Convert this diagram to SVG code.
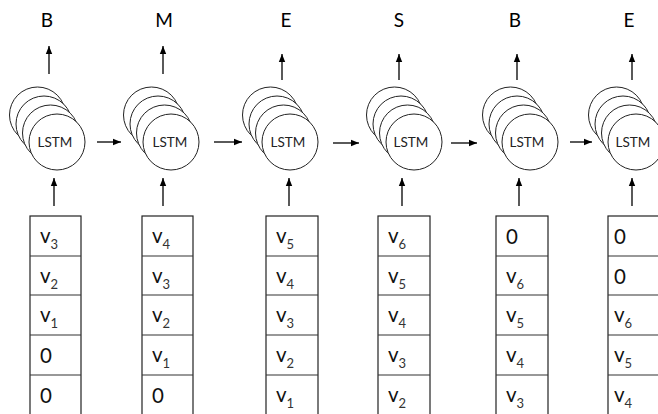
<svg xmlns="http://www.w3.org/2000/svg" width="658" height="414" viewBox="0 0 658 414">
<style>
.lbl{font-family:Lato,"Liberation Sans",sans-serif;font-size:19px;fill:#000;text-anchor:middle}
.lt{font-family:Lato,"Liberation Sans",sans-serif;font-size:13.5px;fill:#222;text-anchor:middle}
.c{fill:#fff;stroke:#222;stroke-width:1}
.bx{fill:#fff;stroke:#222;stroke-width:1.2}
.rl{stroke:#333;stroke-width:1.2}
.v{font-family:Lato,"Liberation Sans",sans-serif;font-size:20.5px;fill:#111}
.s{font-size:13px;fill:#333}
.ar{stroke:#000;stroke-width:1.3;fill:none;marker-end:url(#ah)}
</style>
<defs>
<marker id="ah" markerUnits="userSpaceOnUse" markerWidth="8" markerHeight="8" viewBox="0 0 8 8" refX="8" refY="4" orient="auto">
<path d="M0,0.8 L8,4 L0,7.2 Z" fill="#000"/>
</marker>
<g id="stack">
<circle class="c" cx="-19.5" cy="-27" r="28"/>
<circle class="c" cx="-13" cy="-18" r="28"/>
<circle class="c" cx="-6.5" cy="-9" r="28"/>
<circle class="c" cx="0" cy="0" r="28"/>
</g>
</defs>

<g id="labels">
<text class="lbl" x="47" y="27">B</text>
<text class="lbl" x="164" y="27">M</text>
<text class="lbl" x="286" y="27">E</text>
<text class="lbl" x="399" y="27">S</text>
<text class="lbl" x="515" y="27">B</text>
<text class="lbl" x="629" y="27">E</text>
</g>

<g id="lstm1"><use href="#stack" x="57" y="142"/><text class="lt" x="55" y="147">LSTM</text></g>
<g id="lstm2"><use href="#stack" x="171" y="142"/><text class="lt" x="170" y="147">LSTM</text></g>
<g id="lstm3"><use href="#stack" x="290" y="142"/><text class="lt" x="288" y="147">LSTM</text></g>
<g id="lstm4"><use href="#stack" x="414" y="142"/><text class="lt" x="411" y="147">LSTM</text></g>
<g id="lstm5"><use href="#stack" x="530" y="142"/><text class="lt" x="527" y="147">LSTM</text></g>
<g id="lstm6"><use href="#stack" x="636" y="142"/><text class="lt" x="633" y="147">LSTM</text></g>

<g id="input1">
<rect class="bx" x="30" y="216" width="51" height="210"/>
<line class="rl" x1="30" y1="256" x2="81" y2="256"/><line class="rl" x1="30" y1="295" x2="81" y2="295"/><line class="rl" x1="30" y1="335" x2="81" y2="335"/><line class="rl" x1="30" y1="375" x2="81" y2="375"/>
<text class="v" x="40" y="243">v<tspan class="s" dy="6">3</tspan></text>
<text class="v" x="40" y="283">v<tspan class="s" dy="6">2</tspan></text>
<text class="v" x="40" y="322">v<tspan class="s" dy="6">1</tspan></text>
<text class="v" x="40" y="363">0</text>
<text class="v" x="40" y="403">0</text>
</g>
<g id="input2">
<rect class="bx" x="142" y="216" width="51" height="210"/>
<line class="rl" x1="142" y1="256" x2="193" y2="256"/><line class="rl" x1="142" y1="295" x2="193" y2="295"/><line class="rl" x1="142" y1="335" x2="193" y2="335"/><line class="rl" x1="142" y1="375" x2="193" y2="375"/>
<text class="v" x="152" y="243">v<tspan class="s" dy="6">4</tspan></text>
<text class="v" x="152" y="283">v<tspan class="s" dy="6">3</tspan></text>
<text class="v" x="152" y="322">v<tspan class="s" dy="6">2</tspan></text>
<text class="v" x="152" y="362">v<tspan class="s" dy="6">1</tspan></text>
<text class="v" x="152" y="403">0</text>
</g>
<g id="input3">
<rect class="bx" x="266" y="216" width="52" height="210"/>
<line class="rl" x1="266" y1="256" x2="318" y2="256"/><line class="rl" x1="266" y1="295" x2="318" y2="295"/><line class="rl" x1="266" y1="335" x2="318" y2="335"/><line class="rl" x1="266" y1="375" x2="318" y2="375"/>
<text class="v" x="276" y="243">v<tspan class="s" dy="6">5</tspan></text>
<text class="v" x="276" y="283">v<tspan class="s" dy="6">4</tspan></text>
<text class="v" x="276" y="322">v<tspan class="s" dy="6">3</tspan></text>
<text class="v" x="276" y="362">v<tspan class="s" dy="6">2</tspan></text>
<text class="v" x="276" y="402">v<tspan class="s" dy="6">1</tspan></text>
</g>
<g id="input4">
<rect class="bx" x="378" y="216" width="52" height="210"/>
<line class="rl" x1="378" y1="256" x2="430" y2="256"/><line class="rl" x1="378" y1="295" x2="430" y2="295"/><line class="rl" x1="378" y1="335" x2="430" y2="335"/><line class="rl" x1="378" y1="375" x2="430" y2="375"/>
<text class="v" x="388" y="243">v<tspan class="s" dy="6">6</tspan></text>
<text class="v" x="388" y="283">v<tspan class="s" dy="6">5</tspan></text>
<text class="v" x="388" y="322">v<tspan class="s" dy="6">4</tspan></text>
<text class="v" x="388" y="362">v<tspan class="s" dy="6">3</tspan></text>
<text class="v" x="388" y="402">v<tspan class="s" dy="6">2</tspan></text>
</g>
<g id="input5">
<rect class="bx" x="496" y="216" width="52" height="210"/>
<line class="rl" x1="496" y1="256" x2="548" y2="256"/><line class="rl" x1="496" y1="295" x2="548" y2="295"/><line class="rl" x1="496" y1="335" x2="548" y2="335"/><line class="rl" x1="496" y1="375" x2="548" y2="375"/>
<text class="v" x="506" y="244">0</text>
<text class="v" x="506" y="283">v<tspan class="s" dy="6">6</tspan></text>
<text class="v" x="506" y="322">v<tspan class="s" dy="6">5</tspan></text>
<text class="v" x="506" y="362">v<tspan class="s" dy="6">4</tspan></text>
<text class="v" x="506" y="402">v<tspan class="s" dy="6">3</tspan></text>
</g>
<g id="input6">
<rect class="bx" x="608" y="216" width="60" height="210"/>
<line class="rl" x1="608" y1="256" x2="668" y2="256"/><line class="rl" x1="608" y1="295" x2="668" y2="295"/><line class="rl" x1="608" y1="335" x2="668" y2="335"/><line class="rl" x1="608" y1="375" x2="668" y2="375"/>
<text class="v" x="614" y="244">0</text>
<text class="v" x="614" y="284">0</text>
<text class="v" x="614" y="322">v<tspan class="s" dy="6">6</tspan></text>
<text class="v" x="614" y="362">v<tspan class="s" dy="6">5</tspan></text>
<text class="v" x="614" y="402">v<tspan class="s" dy="6">4</tspan></text>
</g>

<g id="connectors">
<line class="ar" x1="49" y1="74" x2="49" y2="46"/>
<line class="ar" x1="163" y1="74" x2="163" y2="46"/>
<line class="ar" x1="282" y1="80" x2="282" y2="54"/>
<line class="ar" x1="399" y1="80" x2="399" y2="54"/>
<line class="ar" x1="517" y1="80" x2="517" y2="54"/>
<line class="ar" x1="632" y1="80" x2="632" y2="54"/>
<line class="ar" x1="54" y1="206" x2="54" y2="178"/>
<line class="ar" x1="163" y1="206" x2="163" y2="178"/>
<line class="ar" x1="289" y1="206" x2="289" y2="178"/>
<line class="ar" x1="402" y1="206" x2="402" y2="178"/>
<line class="ar" x1="519" y1="206" x2="519" y2="178"/>
<line class="ar" x1="632" y1="206" x2="632" y2="178"/>
<line class="ar" x1="97" y1="142" x2="121" y2="142"/>
<line class="ar" x1="214" y1="142" x2="242" y2="142"/>
<line class="ar" x1="333" y1="143" x2="359" y2="143"/>
<line class="ar" x1="451" y1="143" x2="477" y2="143"/>
<line class="ar" x1="570" y1="142" x2="592" y2="142"/>
</g>
</svg>
